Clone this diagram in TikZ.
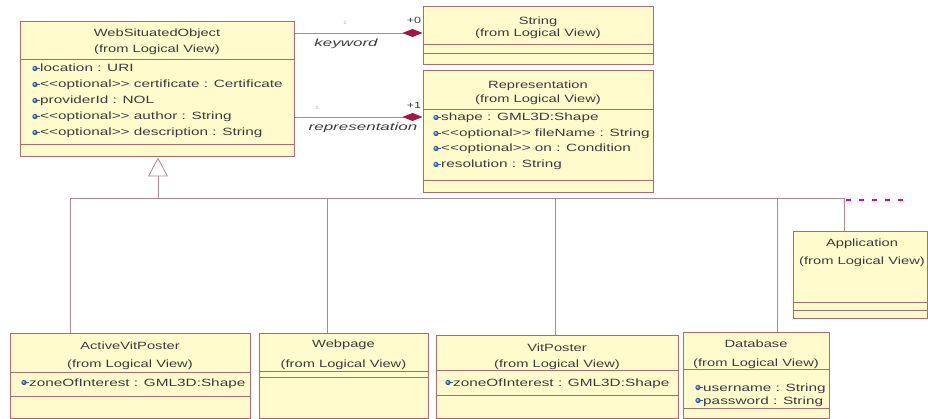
\documentclass[tikz,border=0pt]{standalone}
\usepackage{fontspec}
\newfontfamily\umlfont{Liberation Sans}[FakeStretch=1.4]
\newfontfamily\umlattrfont{Liberation Sans}[FakeStretch=1.46]
\newfontfamily\umlrolefont{Liberation Sans}[FakeStretch=1.62]
\usetikzlibrary{arrows.meta,fit}

\definecolor{boxfill}{HTML}{FFFBCC}
\definecolor{boxline}{HTML}{B06A6C}
\definecolor{linkline}{HTML}{B08890}
\definecolor{diamondred}{HTML}{A01848}
\definecolor{txt}{HTML}{3C3C3C}
\definecolor{iconblue}{HTML}{3A7FD0}
\definecolor{faint}{HTML}{B8B8B8}

% attribute marker: blue ball with a short tail
\newcommand{\attricon}[2]{%
  \draw[iconblue!80!black, line width=0.7pt] (#1,#2) -- ++(4.5,0);
  \shade[ball color=iconblue] (#1,#2) circle[radius=2.6pt];}

\begin{document}
\begin{tikzpicture}[x=1pt, y=-1pt,
  classframe/.style={draw=boxline, fill=boxfill, line width=1pt, inner sep=0pt, rectangle},
  sepline/.style={draw=boxline, line width=0.9pt},
  classname/.style={font=\umlfont\fontsize{10.5}{12}\selectfont, text=txt, anchor=base, inner sep=0pt},
  attrtext/.style={font=\umlattrfont\fontsize{10.5}{12}\selectfont, text=txt, anchor=base west, inner sep=0pt},
  rolelabel/.style={font=\umlrolefont\itshape\fontsize{10.5}{12}\selectfont, text=txt, anchor=base, inner sep=0pt},
  multlabel/.style={font=\umlfont\fontsize{9}{10}\selectfont, text=txt, anchor=base, inner sep=0pt},
  faintlabel/.style={font=\umlfont\fontsize{5}{6}\selectfont, text=faint, anchor=base, inner sep=0pt},
  assoc/.style={draw=linkline, line width=0.8pt,
    -{Diamond[fill=diamondred, color=diamondred, length=20pt, width=8pt]}},
  genline/.style={draw=linkline, line width=0.8pt},
  gentip/.style={draw=linkline, line width=0.8pt,
    -{Triangle[open, fill=white, length=19pt, width=20pt]}},
  pinkdash/.style={draw=magenta, line width=1.6pt, dash pattern=on 5pt off 8pt}
]
\useasboundingbox (0,0) rectangle (928,419);

% ---------------- class boxes ----------------
\node[classframe, fit={(20,22) (294,157)}] (wso) {};
\node[classframe, fit={(423,7) (653,65)}] (str) {};
\node[classframe, fit={(423,71) (653,193)}] (rep) {};
\node[classframe, fit={(793,232) (927,318)}] (app) {};
\node[classframe, fit={(10,333) (250,418)}] (avp) {};
\node[classframe, fit={(259,333) (428,418)}] (web) {};
\node[classframe, fit={(436,335) (678,418)}] (vp) {};
\node[classframe, fit={(683,332) (829,418)}] (db) {};

% compartment separators
\foreach \b/\y in {wso/59, wso/144, str/44, str/53, rep/109, rep/180,
                   app/302, app/310, avp/372, avp/396, web/371, web/377,
                   vp/370, vp/395, db/369, db/408}
  \draw[sepline] (\b.west |- 0,\y) -- (\b.east |- 0,\y);

% ---------------- WebSituatedObject ----------------
\node[classname] (wsoN) at (157,37) {WebSituatedObject};
\node[classname] (wsoF) at (157,53) {(from Logical View)};
\foreach \y/\t in {72/{location : URI},
                   88/{<<optional>> certificate : Certificate},
                   104/{providerId : NOL},
                   120/{<<optional>> author : String},
                   136/{<<optional>> description : String}} {
  \attricon{35}{\y-3.5}
  \node[attrtext] at (40,\y) {\t};
}

% ---------------- String ----------------
\node[classname] (strN) at (538,25) {String};
\node[classname] (strF) at (538,37) {(from Logical View)};

% ---------------- Representation ----------------
\node[classname] (repN) at (538,89) {Representation};
\node[classname] (repF) at (538,103) {(from Logical View)};
\foreach \y/\t in {121/{shape : GML3D:Shape},
                   137/{<<optional>> fileName : String},
                   152/{<<optional>> on : Condition},
                   168/{resolution : String}} {
  \attricon{436}{\y-3.5}
  \node[attrtext] at (441,\y) {\t};
}

% ---------------- Application ----------------
\node[classname] (appN) at (862,247) {Application};
\node[classname] (appF) at (862,265) {(from Logical View)};

% ---------------- ActiveVitPoster ----------------
\node[classname] (avpN) at (130,349) {ActiveVitPoster};
\node[classname] (avpF) at (130,367) {(from Logical View)};
\attricon{24}{382.5}
\node[attrtext] at (29,386) {zoneOfInterest : GML3D:Shape};

% ---------------- Webpage ----------------
\node[classname] (webN) at (343.5,347) {Webpage};
\node[classname] (webF) at (343.5,367) {(from Logical View)};

% ---------------- VitPoster ----------------
\node[classname] (vpN) at (557,351) {VitPoster};
\node[classname] (vpF) at (557,367) {(from Logical View)};
\attricon{448}{382.5}
\node[attrtext] at (453,386) {zoneOfInterest : GML3D:Shape};

% ---------------- Database ----------------
\node[classname] (dbN) at (756,347) {Database};
\node[classname] (dbF) at (756,366) {(from Logical View)};
\attricon{698}{387.5}
\node[attrtext] at (703,391) {username : String};
\attricon{698}{400.5}
\node[attrtext] at (703,404) {password : String};

% ---------------- associations ----------------
\coordinate (kwrow) at (0,33);
\coordinate (reprow) at (0,117);
\draw[assoc] (wso.east |- kwrow) -- (str.west |- kwrow);
\draw[assoc] (wso.east |- reprow) -- (rep.west |- reprow);
\node[rolelabel] (kwlab) at (346,47) {keyword};
\node[rolelabel] (replab) at (363,131) {representation};
\node[multlabel] (kwmult) at (414,24) {+0};
\node[multlabel] (repmult) at (414,109) {+1};
\node[faintlabel] (kwone) at (345,25) {1};
\node[faintlabel] (repone) at (317,110) {1};

% ---------------- generalization tree ----------------
\coordinate (bus0) at (158,198);
\coordinate (busA) at (70,198);
\coordinate (busW) at (327,198);
\coordinate (busV) at (555,198);
\coordinate (busD) at (777,198);
\coordinate (busP) at (844,198);
\draw[gentip] (bus0) -- (wso.south -| bus0);
\draw[genline] (busA) -- (busP);
\draw[genline] (busA) -- (busA |- avp.north);
\draw[genline] (busW) -- (busW |- web.north);
\draw[genline] (busV) -- (busV |- vp.north);
\draw[genline] (busD) -- (busD |- db.north);
\draw[genline] (busP) -- (busP |- app.north);

% dashed continuation to the right
\coordinate (dashA) at (846,200);
\coordinate (dashB) at (906,200);
\draw[pinkdash] (dashA) -- (dashB);
\end{tikzpicture}
\end{document}
